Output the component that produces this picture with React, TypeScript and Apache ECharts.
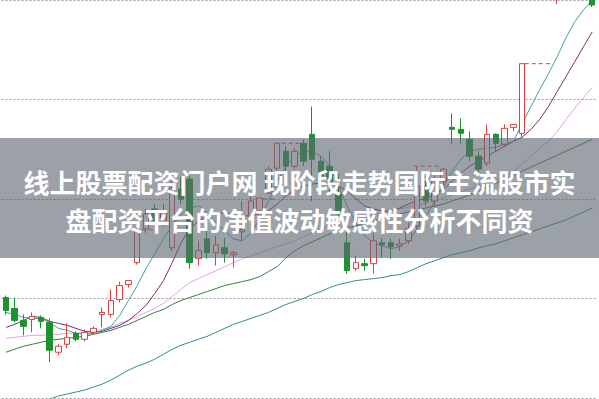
import React, { useEffect, useRef } from "react";
import * as echarts from "echarts";

const dayLabels = Array.from({ length: 68 }, (_, i) => String(i + 1));

// [open, close, low, high]
const candles = [
  [9.01, 8.88, 8.84, 9.03], [8.90, 8.78, 8.76, 9.01], [8.78, 8.72, 8.63, 8.84], [8.79, 8.82, 8.66, 8.86],
  [8.81, 8.77, 8.70, 8.83], [8.76, 8.48, 8.36, 8.80], [8.46, 8.52, 8.43, 8.54], [8.54, 8.61, 8.50, 8.75],
  [8.65, 8.59, 8.57, 8.67], [8.59, 8.66, 8.57, 8.69], [8.66, 8.70, 8.64, 8.72], [8.84, 8.86, 8.71, 8.91],
  [8.84, 8.98, 8.81, 9.09], [8.99, 9.13, 8.96, 9.17], [9.14, 9.18, 9.11, 9.18], [9.36, 9.68, 9.34, 9.71],
  [9.70, 9.85, 9.66, 9.90], [9.90, 9.78, 9.74, 9.95], [9.78, 9.88, 9.72, 9.95], [9.51, 10.11, 9.48, 10.25],
  [10.10, 10.00, 9.95, 10.22], [10.20, 9.36, 9.30, 10.23], [9.40, 9.48, 9.33, 9.58], [9.60, 9.46, 9.40, 9.68],
  [9.46, 9.54, 9.33, 9.63], [9.51, 9.45, 9.36, 9.61], [9.44, 9.46, 9.31, 9.48], [9.67, 9.69, 9.58, 9.98],
  [9.83, 9.98, 9.78, 10.03], [9.88, 10.01, 9.85, 10.01], [10.06, 10.30, 10.05, 10.33], [10.31, 10.56, 10.28, 10.56],
  [10.48, 10.33, 10.28, 10.53], [10.33, 10.48, 10.30, 10.51], [10.56, 10.38, 10.33, 10.60], [10.65, 10.40, 9.98, 10.93],
  [10.38, 10.23, 10.18, 10.43], [10.33, 10.16, 10.05, 10.48], [10.06, 9.88, 9.83, 10.25], [9.56, 9.28, 9.25, 9.68],
  [9.30, 9.36, 9.28, 9.43], [9.35, 9.33, 9.28, 9.40], [9.35, 9.58, 9.25, 9.71], [9.56, 9.54, 9.41, 9.61],
  [9.56, 9.52, 9.40, 9.60], [9.53, 9.55, 9.48, 9.60], [9.58, 9.70, 9.55, 9.76], [9.73, 10.13, 9.70, 10.33],
  [10.13, 9.98, 9.93, 10.23], [9.98, 10.18, 9.93, 10.26], [10.18, 10.30, 10.13, 10.31], [10.72, 10.70, 10.55, 10.86],
  [10.70, 10.66, 10.55, 10.81], [10.60, 10.43, 10.38, 10.68], [10.43, 10.30, 10.26, 10.48], [10.36, 10.65, 10.33, 10.75],
  [10.65, 10.56, 10.48, 10.66], [10.55, 10.71, 10.53, 10.75], [10.72, 10.75, 10.68, 10.75], [10.66, 11.36, 10.61, 11.36],
  [12.05, 12.40, 12.02, 12.45], [12.40, 12.90, 12.35, 13.00], [12.90, 12.50, 12.40, 13.10], [12.10, 12.40, 11.96, 12.50],
  [12.50, 12.90, 12.30, 13.00], [12.90, 13.20, 12.80, 13.30], [13.20, 12.80, 12.60, 13.30], [12.40, 11.95, 11.93, 12.50],
];

const ma5 = [
  8.86, 8.84, 8.81, 8.80, 8.80, 8.76, 8.70, 8.68, 8.65, 8.64, 8.65, 8.68, 8.72, 8.83, 8.98, 9.13, 9.30,
  9.45, 9.60, 9.73, 9.84, 9.91, 9.93, 9.86, 9.76, 9.68, 9.60, 9.58, 9.66, 9.80, 9.98, 10.18, 10.33, 10.43,
  10.48, 10.48, 10.43, 10.33, 10.13, 9.93, 9.76, 9.63, 9.56, 9.53, 9.50, 9.52, 9.58, 9.70, 9.83, 9.98,
  10.13, 10.28, 10.40, 10.48, 10.50, 10.51, 10.52, 10.55, 10.58, 10.76, 10.93, 11.10, 11.26, 11.43, 11.62,
  11.78, 11.90, 12.00,
];
const ma10 = [
  8.71, 8.74, 8.78, 8.82, 8.81, 8.77, 8.75, 8.73, 8.70, 8.67, 8.66, 8.67, 8.70, 8.73, 8.78, 8.85, 8.93,
  9.05, 9.18, 9.36, 9.56, 9.70, 9.78, 9.83, 9.86, 9.86, 9.84, 9.83, 9.83, 9.85, 9.88, 9.95, 10.03, 10.10,
  10.13, 10.15, 10.16, 10.16, 10.13, 10.08, 10.00, 9.93, 9.90, 9.88, 9.88, 9.91, 9.95, 9.98, 10.01, 10.05,
  10.10, 10.18, 10.26, 10.33, 10.38, 10.43, 10.48, 10.53, 10.58, 10.62, 10.70, 10.80, 10.93, 11.08, 11.23,
  11.38, 11.53, 11.68,
];
const ma20 = [
  8.60, 8.61, 8.62, 8.63, 8.63, 8.64, 8.64, 8.65, 8.65, 8.66, 8.67, 8.69, 8.71, 8.75, 8.78, 8.82, 8.86,
  8.90, 8.95, 9.02, 9.09, 9.16, 9.20, 9.24, 9.28, 9.32, 9.36, 9.40, 9.43, 9.46, 9.49, 9.52, 9.55, 9.58,
  9.62, 9.66, 9.70, 9.73, 9.76, 9.78, 9.80, 9.82, 9.84, 9.86, 9.88, 9.90, 9.92, 9.94, 9.96, 9.98, 10.01,
  10.04, 10.07, 10.10, 10.13, 10.16, 10.19, 10.23, 10.28, 10.35, 10.43, 10.51, 10.58, 10.68, 10.80, 10.91,
  11.02, 11.12,
];
const ma30 = [
  8.46, 8.49, 8.52, 8.54, 8.56, 8.58, 8.59, 8.60, 8.61, 8.62, 8.64, 8.66, 8.68, 8.71, 8.74, 8.78, 8.82,
  8.86, 8.89, 8.94, 8.98, 9.01, 9.04, 9.07, 9.10, 9.13, 9.15, 9.17, 9.19, 9.22, 9.27, 9.32, 9.41, 9.48,
  9.53, 9.57, 9.61, 9.65, 9.68, 9.71, 9.73, 9.76, 9.78, 9.80, 9.83, 9.85, 9.87, 9.89, 9.91, 9.93, 9.95,
  9.98, 10.01, 10.04, 10.08, 10.12, 10.16, 10.20, 10.24, 10.28, 10.32, 10.36, 10.40, 10.44, 10.48, 10.52,
  10.56, 10.60,
];
const ma60 = [
  7.86, 7.88, 7.91, 7.93, 7.96, 7.99, 8.02, 8.04, 8.06, 8.08, 8.11, 8.14, 8.18, 8.23, 8.28, 8.32, 8.35,
  8.39, 8.44, 8.49, 8.53, 8.56, 8.59, 8.62, 8.66, 8.70, 8.74, 8.77, 8.80, 8.83, 8.86, 8.90, 8.94, 8.97,
  9.00, 9.04, 9.07, 9.11, 9.14, 9.16, 9.18, 9.19, 9.20, 9.21, 9.23, 9.24, 9.27, 9.31, 9.35, 9.38, 9.41,
  9.44, 9.46, 9.48, 9.51, 9.53, 9.55, 9.58, 9.61, 9.64, 9.67, 9.70, 9.73, 9.76, 9.79, 9.83, 9.87, 9.91,
];

// dashed high markers: [fromIndex, toIndex, price]
const highMarks = [
  [15.5, 16.9, 9.69],
  [29.4, 31.0, 10.0],
  [31.5, 33.6, 10.56],
  [46.6, 49.6, 10.33],
  [59.3, 62.5, 11.36],
];

const titleLines = [
  "线上股票配资门户网 现阶段走势国际主流股市实",
  "盘配资平台的净值波动敏感性分析不同资",
];

const UP = "#d8413f";
const DOWN = "#1b9430";

export default function App() {
  const ref = useRef<HTMLDivElement>(null);
  useEffect(() => {
    if (!ref.current) return;
    const chart = echarts.init(ref.current, undefined, { renderer: "svg" });
    const lineStyle = (color: string) => ({
      type: "line",
      xAxisIndex: 0,
      yAxisIndex: 0,
      showSymbol: false,
      symbol: "none",
      smooth: false,
      lineStyle: { color, width: 1 },
      z: 3,
    });
    const option: any = {
      animation: false,
      backgroundColor: "#ffffff",
      grid: { left: 1.6, width: 595, top: -2, height: 400 },
      xAxis: [
        {
          type: "category",
          data: dayLabels,
          boundaryGap: true,
          show: false,
        },
        {
          type: "value",
          min: -0.5,
          max: 67.5,
          show: false,
        },
      ],
      yAxis: {
        type: "value",
        min: 8,
        max: 12,
        interval: 1,
        axisLine: { show: false },
        axisTick: { show: false },
        axisLabel: { show: false },
        splitLine: {
          show: true,
          lineStyle: { color: "#9a9a9a", type: [2, 2], width: 1 },
        },
      },
      series: [
        { ...lineStyle("#2f8c92"), data: ma60 },
        { ...lineStyle("#3b7d3b"), data: ma30 },
        { ...lineStyle("#e3a3e6"), data: ma20 },
        { ...lineStyle("#7d2f6f"), data: ma10 },
        { ...lineStyle("#3fa0ab"), data: ma5 },
        {
          type: "candlestick",
          data: candles,
          barWidth: 6,
          clip: true,
          z: 4,
          itemStyle: {
            color: "#ffffff",
            color0: DOWN,
            borderColor: UP,
            borderColor0: DOWN,
            borderWidth: 1,
          },
        },
        ...highMarks.map((m) => ({
          type: "line",
          xAxisIndex: 1,
          yAxisIndex: 0,
          symbol: "none",
          z: 4,
          lineStyle: { color: UP, width: 1, type: [4, 3] },
          data: [
            [m[0], m[2]],
            [m[1], m[2]],
          ],
        })),
      ],
      graphic: [
        {
          type: "rect",
          z: 100,
          shape: { x: 0, y: 138, width: 599, height: 120 },
          style: { fill: "rgba(95,103,115,0.62)" },
        },
        ...titleLines.map((t, k) => ({
          type: "text",
          z: 101,
          x: 299.5,
          y: 181 + k * 38,
          style: {
            text: t,
            fill: "#ffffff",
            font: 'bold 26px "Noto Sans CJK SC"',
            align: "center",
            verticalAlign: "middle",
            textAlign: "center",
            textVerticalAlign: "middle",
            shadowColor: "rgba(0,0,0,0.3)",
            shadowBlur: 2,
          },
        })),
      ],
    };
    chart.setOption(option);
    return () => chart.dispose();
  }, []);
  return (
    <div
      ref={ref}
      style={{ position: "fixed", left: 0, top: 0, width: 599, height: 399 }}
    />
  );
}
